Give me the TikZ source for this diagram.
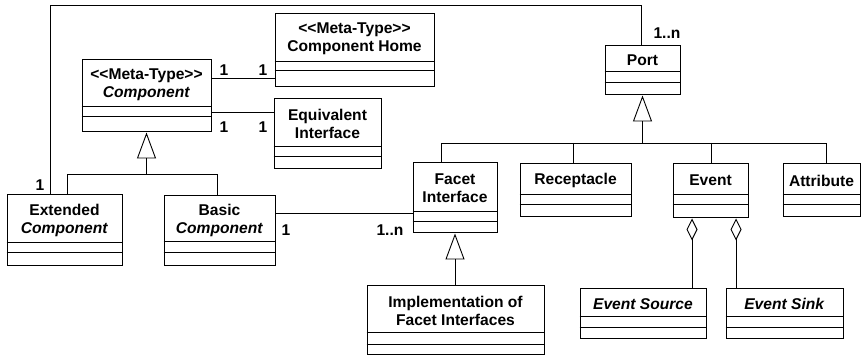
\documentclass[tikz,border=0pt]{standalone}
\usepackage{fontspec}
\setmainfont{Liberation Sans}
\usetikzlibrary{arrows.meta}
\tikzset{
 box/.style={draw, line width=1pt, inner sep=0pt},
 cls/.style={font=\bfseries\fontsize{15.6}{18}\selectfont, align=center, inner sep=0pt},
 conn/.style={line width=0.9pt},
 mult/.style={font=\bfseries\fontsize{15.6}{18}\selectfont, inner sep=0pt},
 gen/.style={conn, -{Triangle[open, length=26pt, width=19pt, line width=0.9pt]}},
 agg/.style={conn, {Diamond[open, length=22pt, width=11pt, line width=0.9pt]}-},
}
\newcommand\umlclass[8]{%
 \node[box, minimum width={(#4-#2)*1pt}, minimum height={(#5-#3)*1pt}] (#1) at ({(#2+#4)/2},{(#3+#5)/2}) {};
 \draw[line width=1pt] (#1.west |- 0,#6) -- (#1.east |- 0,#6) (#1.west |- 0,#7) -- (#1.east |- 0,#7);
 \node[cls] (#1-t) at ({(#2+#4)/2},{(#3+#6)/2+1}) {#8};
}
\begin{document}
\begin{tikzpicture}[x=1pt,y=-1pt]
\fill[white] (0,0) rectangle (863,358);
\useasboundingbox (0,0) rectangle (863,358);
% classes
\umlclass{home}{275}{14}{434}{87}{62}{71}{<{}<Meta-Type>{}>\\Component Home}
\umlclass{comp}{82}{60}{211}{132}{107}{117}{<{}<Meta-Type>{}>\\\textit{Component}}
\umlclass{equiv}{274}{99}{381}{169}{147}{157}{Equivalent\\Interface}
\umlclass{ext}{7}{195}{122}{266}{243}{253}{Extended\\\textit{Component}}
\umlclass{basic}{164}{196}{275}{266}{242}{253}{Basic\\\textit{Component}}
\umlclass{port}{605}{46}{680}{95}{72}{83}{Port}
\umlclass{facet}{413}{163}{497}{233}{212}{222}{Facet\\Interface}
\umlclass{recep}{520}{164}{631}{217}{195}{205}{Receptacle}
\umlclass{event}{673}{164}{748}{218}{195}{205}{Event}
\umlclass{attr}{783}{164}{860}{217}{195}{205}{Attribute}
\umlclass{impl}{367}{286}{544}{355}{333}{345}{Implementation of\\Facet Interfaces}
\umlclass{esrc}{580}{289}{706}{339}{317}{328}{\textit{Event Source}}
\umlclass{esink}{726}{289}{843}{339}{317}{328}{\textit{Event Sink}}
% associations
\draw[conn] (comp.east |- 0,78) -- (home.west |- 0,78);
\draw[conn] (comp.east |- 0,112) -- (equiv.west |- 0,112);
\draw[conn] (basic.east |- 0,213) -- (facet.west |- 0,213);
\coordinate (tl) at (50,5);
\coordinate (tr) at (641,5);
\draw[conn] (ext.north -| tl) -- (tl) -- (tr) -- (port.north -| tr);
% generalization Component
\coordinate (cbl) at (67,174);
\coordinate (cbr) at (217,174);
\draw[conn] (ext.north -| cbl) -- (cbl) -- (cbr) -- (basic.north -| cbr);
\draw[gen] (comp.south |- cbl) -- (comp.south);
% generalization Port
\coordinate (pbl) at (441,143);
\coordinate (pbr) at (826,143);
\coordinate (pb2) at (573,143);
\coordinate (pb3) at (711,143);
\draw[conn] (facet.north -| pbl) -- (pbl) -- (pbr) -- (attr.north -| pbr);
\draw[conn] (pb2) -- (recep.north -| pb2);
\draw[conn] (pb3) -- (event.north -| pb3);
\draw[gen] (port.south |- pbl) -- (port.south);
% generalization Facet
\draw[gen] (impl.north -| facet.south) -- (facet.south);
% aggregation
\coordinate (a1) at (692,0);
\coordinate (a2) at (736,0);
\draw[agg] (event.south -| a1) -- (esrc.north -| a1);
\draw[agg] (event.south -| a2) -- (esink.north -| a2);
% multiplicities
\node[mult] (m1) at (224,70) {1};
\node[mult] (m2) at (263,70) {1};
\node[mult] (m3) at (224,127) {1};
\node[mult] (m4) at (263,127) {1};
\node[mult] (m5) at (40,185) {1};
\node[mult] (m6) at (667,33) {1..n};
\node[mult] (m7) at (286,230) {1};
\node[mult] (m8) at (390,230) {1..n};
\end{tikzpicture}
\end{document}
